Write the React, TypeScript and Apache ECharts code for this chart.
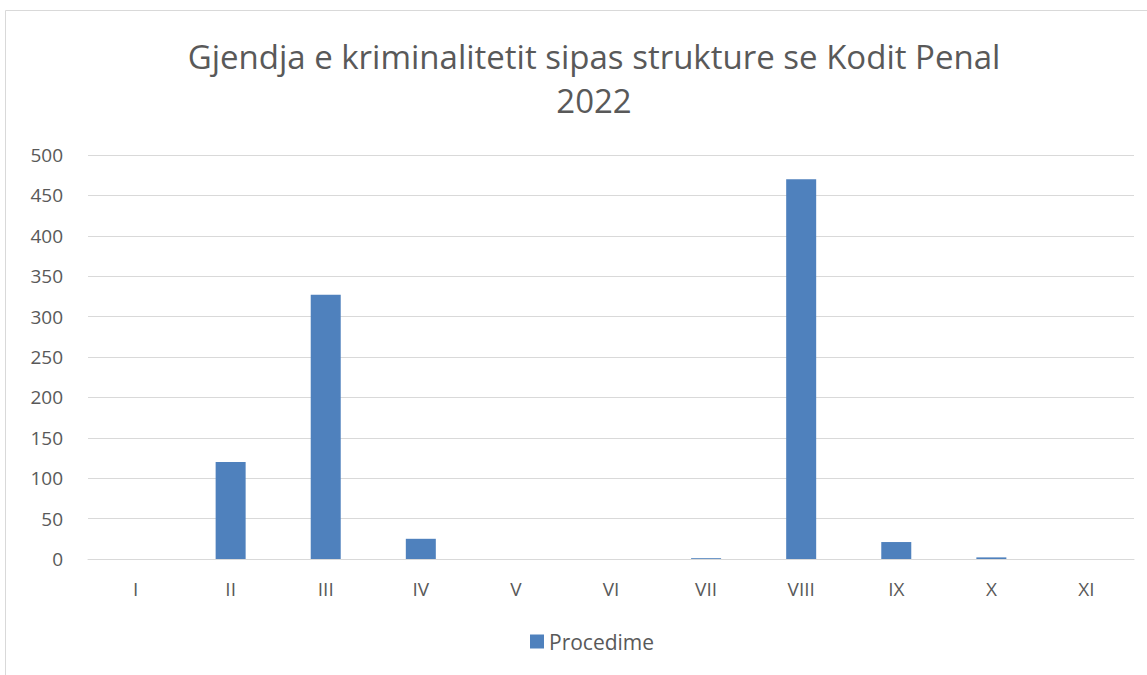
import React, { useEffect, useRef } from "react";
import * as echarts from "echarts";

const categories = ["I", "II", "III", "IV", "V", "VI", "VII", "VIII", "IX", "X", "XI"];
const procedime = [0, 120, 327, 25, 0, 0, 1, 470, 21, 2, 0];
const titleText = "Gjendja e kriminalitetit sipas strukture se Kodit Penal\n2022";
const seriesName = "Procedime";

export default function App() {
  const ref = useRef<HTMLDivElement>(null);
  useEffect(() => {
    if (!ref.current) return;
    const chart = echarts.init(ref.current, null, { renderer: "svg" });
    const font = "'Open Sans', 'Noto Sans', sans-serif";
    chart.setOption({
      animation: false,
      backgroundColor: "#ffffff",
      graphic: [
        {
          type: "rect",
          shape: { x: 5.5, y: 10.5, width: 1200, height: 700 },
          style: { fill: "none", stroke: "#d9d9d9", lineWidth: 1 },
          silent: true,
        },
      ],
      title: {
        text: titleText,
        left: 589,
        textAlign: "center",
        top: 29,
        textStyle: {
          fontFamily: font,
          fontSize: 33,
          fontWeight: "normal",
          color: "#595959",
          lineHeight: 44,
        },
      },
      legend: {
        data: [seriesName],
        bottom: 18,
        left: 525,
        itemWidth: 14,
        itemHeight: 14,
        itemGap: 5,
        icon: "rect",
        textStyle: { fontFamily: font, fontSize: 21, color: "#595959" },
      },
      grid: { left: 88, right: 13, top: 155, bottom: 116, containLabel: false },
      xAxis: {
        type: "category",
        data: categories,
        axisLine: { lineStyle: { color: "#d9d9d9", width: 1 } },
        axisTick: { show: false },
        axisLabel: { fontFamily: font, fontSize: 19, color: "#595959", margin: 20 },
      },
      yAxis: {
        type: "value",
        min: 0,
        max: 500,
        interval: 50,
        axisLine: { show: false },
        axisTick: { show: false },
        axisLabel: { fontFamily: font, fontSize: 19, color: "#595959", margin: 25 },
        splitLine: { lineStyle: { color: "#d9d9d9", width: 1 } },
      },
      series: [
        {
          name: seriesName,
          type: "bar",
          data: procedime,
          barWidth: 30,
          itemStyle: { color: "#4f81bd" },
        },
      ],
    });
    return () => chart.dispose();
  }, []);
  return (
    <div
      ref={ref}
      style={{ position: "absolute", left: 0, top: 0, width: 1147, height: 675 }}
    />
  );
}
